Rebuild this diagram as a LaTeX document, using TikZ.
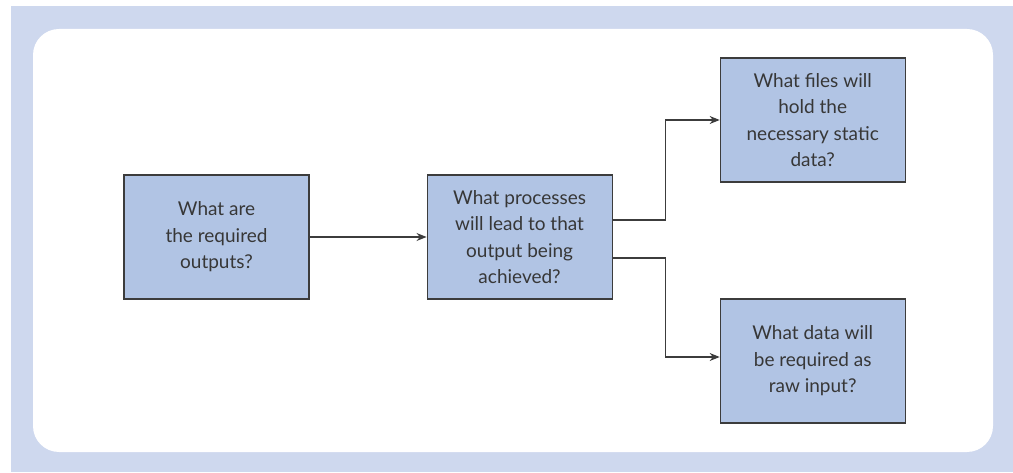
\documentclass[tikz,border=0pt]{standalone}
\usepackage{fontspec}
\setmainfont{Lato}
\usetikzlibrary{arrows.meta}
\usetikzlibrary{positioning}

\definecolor{panelblue}{RGB}{206,216,238}
\definecolor{boxblue}{RGB}{177,196,228}
\definecolor{edgegray}{RGB}{60,60,60}
\definecolor{textgray}{RGB}{55,55,55}

\begin{document}
\begin{tikzpicture}[x=1pt,y=1pt]
    \tikzset{
      >={Stealth[length=10pt,width=8pt]},
      qbox/.style={draw=edgegray, line width=1.1pt, fill=boxblue,
        minimum width=185pt, minimum height=124pt, inner sep=0pt,
        align=center, text=textgray,
        font=\fontsize{19}{26.5}\selectfont},
      link/.style={->, draw=edgegray, line width=1.1pt},
    }
    \useasboundingbox (0,0) rectangle (1013,472);
    % background panel
    \fill[panelblue] (11,0) rectangle (1013,466);
    \fill[white, rounded corners=26pt] (33,20) rectangle (993,443);

    \node[qbox] (outputs) at (216.5,235) {What are\\the required\\outputs?};
    \node[qbox, right=117pt of outputs] (processes) {What processes\\will lead to that\\output being\\achieved?};
    \node[qbox, right=107pt of processes, yshift=117pt] (files) {What files will\\hold the\\necessary static\\data?};
    \node[qbox, right=107pt of processes, yshift=-124pt] (rawdata) {What data will\\be required as\\raw input?};

    \draw[link] (outputs) -- (processes);
    \draw[link] ([yshift=17pt]processes.east) -- ++(53pt,0) |- (files.west);
    \draw[link] ([yshift=-21pt]processes.east) -- ++(53pt,0) |- ([yshift=4pt]rawdata.west);
\end{tikzpicture}
\end{document}
